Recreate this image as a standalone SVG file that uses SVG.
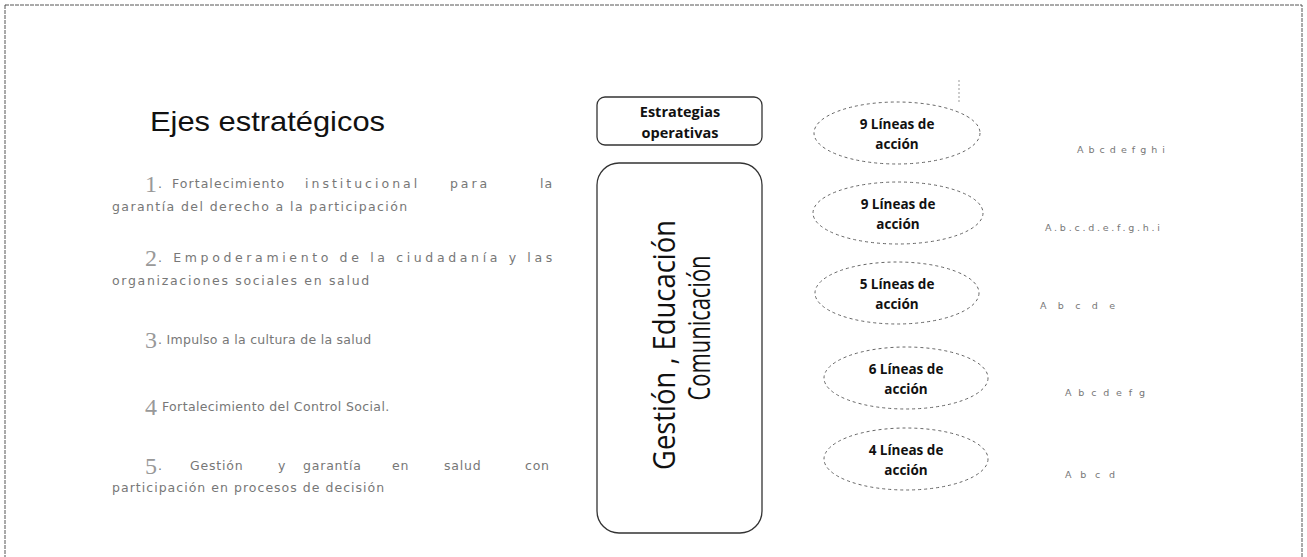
<svg xmlns="http://www.w3.org/2000/svg" width="1307" height="557" viewBox="0 0 1307 557">
<defs>
<style>
.frame{fill:none;stroke:#555;stroke-width:1;stroke-dasharray:4 1}
.title{font-family:"Liberation Sans",Arial,sans-serif;font-size:28px;fill:#111}
.item{font-family:"DejaVu Sans",sans-serif;font-size:12.5px;fill:#777;letter-spacing:0.8px}
.num{font-family:"Liberation Serif",serif;font-size:24px;fill:#999}
.box{fill:#fff;stroke:#333;stroke-width:1.3}
.boxtxt{font-family:"Open Sans","Liberation Sans",sans-serif;font-weight:bold;font-size:14.5px;fill:#111;text-anchor:middle}
.vert{font-family:"Open Sans","Liberation Sans",sans-serif;font-weight:normal;font-size:31px;fill:#111;text-anchor:middle}
.ell{fill:#fff;stroke:#666;stroke-width:1;stroke-dasharray:3 3}
.elltxt{font-family:"Open Sans","Liberation Sans",sans-serif;font-weight:bold;font-size:13.5px;fill:#111;text-anchor:middle}
.lbl{font-family:"DejaVu Sans",sans-serif;font-size:9.5px;fill:#777}
</style>
</defs>
<rect class="frame" x="5" y="5" width="1297" height="570"/>

<g id="ejes">
<text class="title" x="150" y="131" textLength="235" lengthAdjust="spacingAndGlyphs">Ejes estratégicos</text>
<g id="eje1">
<text class="num" x="145" y="192">1</text>
<text class="item" x="158" y="188">.</text>
<text class="item" x="172" y="188" textLength="113" lengthAdjust="spacing">Fortalecimiento</text>
<text class="item" x="305" y="188" textLength="113" lengthAdjust="spacing">institucional</text>
<text class="item" x="450" y="188" textLength="38" lengthAdjust="spacing">para</text>
<text class="item" x="540" y="188" textLength="13" lengthAdjust="spacing">la</text>
<text class="item" x="112" y="211" textLength="296" lengthAdjust="spacing">garantía del derecho a la participación</text>
</g>
<g id="eje2">
<text class="num" x="145" y="266">2</text>
<text class="item" x="158" y="262" textLength="395" lengthAdjust="spacing">. Empoderamiento de la ciudadanía y las</text>
<text class="item" x="112" y="285" textLength="258" lengthAdjust="spacing">organizaciones sociales en salud</text>
</g>
<g id="eje3">
<text class="num" x="145" y="348">3</text>
<text class="item" x="158" y="344" textLength="214" lengthAdjust="spacing">. Impulso a la cultura de la salud</text>
</g>
<g id="eje4">
<text class="num" x="145" y="415">4</text>
<text class="item" x="162" y="411" textLength="228" lengthAdjust="spacing">Fortalecimiento del Control Social.</text>
</g>
<g id="eje5">
<text class="num" x="145" y="474">5</text>
<text class="item" y="470"><tspan x="158">.</tspan><tspan x="190">Gestión</tspan><tspan x="278">y</tspan><tspan x="303">garantía</tspan><tspan x="392">en</tspan><tspan x="444">salud</tspan><tspan x="525">con</tspan></text>
<text class="item" x="112" y="492" textLength="273" lengthAdjust="spacing">participación en procesos de decisión</text>
</g>
</g>

<g id="estrategias">
<rect class="box" x="597" y="97" width="165" height="48" rx="8"/>
<text class="boxtxt" x="680" y="117">Estrategias</text>
<text class="boxtxt" x="680" y="138">operativas</text>
</g>

<g id="gestion">
<rect class="box" x="597" y="163" width="165" height="370" rx="22"/>
<text class="vert" transform="translate(675,345) rotate(-90)" textLength="250" lengthAdjust="spacingAndGlyphs">Gestión , Educación</text>
<text class="vert" transform="translate(710,328) rotate(-90)" textLength="145" lengthAdjust="spacingAndGlyphs">Comunicación</text>
</g>

<g id="connectors">
<line x1="959" y1="80" x2="959" y2="102" stroke="#999" stroke-width="1" stroke-dasharray="2 2"/>
</g>

<g id="linea1">
<ellipse class="ell" cx="897" cy="133" rx="83" ry="31"/>
<text class="elltxt" x="897" y="129">9 Líneas de</text>
<text class="elltxt" x="897" y="149">acción</text>
</g>
<g id="linea2">
<ellipse class="ell" cx="898" cy="213" rx="85" ry="31"/>
<text class="elltxt" x="898" y="209">9 Líneas de</text>
<text class="elltxt" x="898" y="229">acción</text>
</g>
<g id="linea3">
<ellipse class="ell" cx="897" cy="293" rx="82" ry="31"/>
<text class="elltxt" x="897" y="289">5 Líneas de</text>
<text class="elltxt" x="897" y="309">acción</text>
</g>
<g id="linea4">
<ellipse class="ell" cx="906" cy="378" rx="82" ry="31"/>
<text class="elltxt" x="906" y="374">6 Líneas de</text>
<text class="elltxt" x="906" y="394">acción</text>
</g>
<g id="linea5">
<ellipse class="ell" cx="906" cy="459" rx="82" ry="31"/>
<text class="elltxt" x="906" y="455">4 Líneas de</text>
<text class="elltxt" x="906" y="475">acción</text>
</g>

<g id="letras">
<text class="lbl" x="1077" y="153" textLength="88" lengthAdjust="spacing">A b c d e f g h i</text>
<text class="lbl" x="1045" y="231" textLength="115" lengthAdjust="spacing">A.b.c.d.e.f.g.h.i</text>
<text class="lbl" x="1040" y="309" textLength="75" lengthAdjust="spacing">A b c d e</text>
<text class="lbl" x="1065" y="396" textLength="80" lengthAdjust="spacing">A b c d e f g</text>
<text class="lbl" x="1065" y="478" textLength="50" lengthAdjust="spacing">A b c d</text>
</g>
</svg>
